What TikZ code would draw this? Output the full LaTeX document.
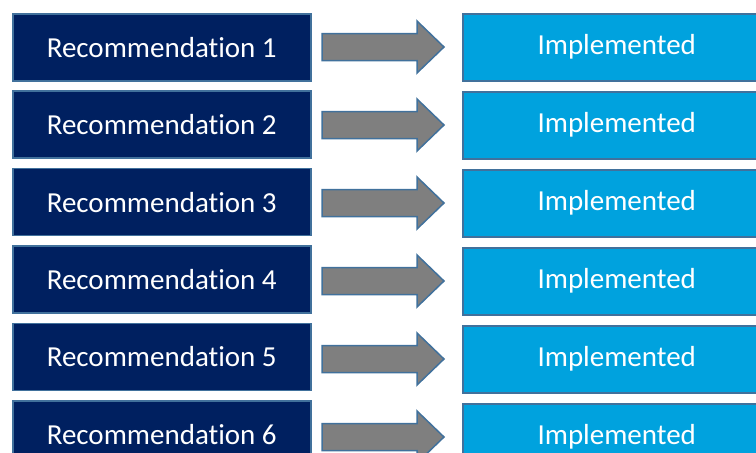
\documentclass[tikz,border=0pt]{standalone}
\usepackage{fontspec}
\setmainfont[Ligatures={NoCommon}]{Carlito}
\definecolor{navy}{RGB}{0,32,96}
\definecolor{skyfill}{RGB}{0,162,222}
\definecolor{edgeblue}{RGB}{65,113,156}
\definecolor{arrowgray}{RGB}{127,127,127}
\begin{document}
\begin{tikzpicture}[x=1pt,y=-1pt,
  boxbase/.style={draw=edgeblue, line width=1.5pt, anchor=north west,
    minimum height=67pt, inner sep=0pt, text=white,
    font=\fontsize{29}{34}\selectfont},
  recbox/.style={boxbase, fill=navy, minimum width=298pt},
  implbox/.style={boxbase, fill=skyfill, minimum width=308pt},
  blockarrow/.style={draw=edgeblue, line width=1.5pt, fill=arrowgray, line join=miter}]
\useasboundingbox (0,0) rectangle (756,453);
\foreach \k in {1,...,6}{
  \pgfmathsetmacro{\ly}{13+(\k-1)*77.4}
  \pgfmathsetmacro{\ry}{13+(\k-1)*78}
  \pgfmathsetmacro{\ay}{47+(\k-1)*78}
  \node[recbox] (rec\k) at (12,\ly) {Recommendation \k};
  \node[implbox] (impl\k) at (462,\ry) {Implemented};
  % block arrow from recommendation to outcome
  \draw[blockarrow] (322,\ay-13.5) -- (417,\ay-13.5) -- (417,\ay-26)
    -- (444,\ay) -- (417,\ay+26) -- (417,\ay+13.5) -- (322,\ay+13.5) -- cycle;
}
\end{tikzpicture}
\end{document}
